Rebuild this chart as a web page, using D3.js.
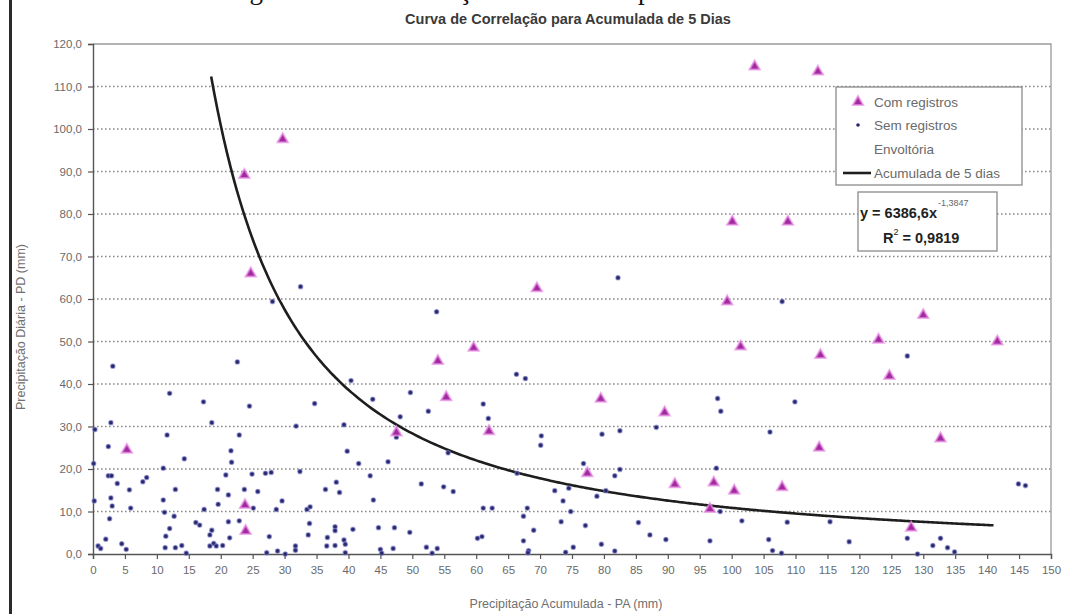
<!DOCTYPE html>
<html>
<head>
<meta charset="utf-8">
<script src="https://cdn.jsdelivr.net/npm/d3@7"></script>
<style>
  html, body { margin: 0; padding: 0; background: #fff; }
  svg { display: block; }
</style>
</head>
<body>
<svg id="chart" width="1069" height="614"></svg>
<script>
// ---- data -------------------------------------------------------------
// "Com registros": events with recorded occurrences (PA, PD)
const comX = [5.3, 23.8, 23.9, 23.7, 24.7, 29.7, 47.5, 54.0, 55.3, 59.6, 62.0, 69.5,
  77.4, 79.5, 89.5, 91.1, 96.6, 97.2, 99.3, 100.1, 100.4, 101.4, 103.6, 107.9,
  108.8, 113.5, 113.7, 113.9, 123.0, 124.7, 128.1, 130.0, 132.7, 141.6];
const comY = [24.5, 11.5, 5.4, 89.2, 66.0, 97.6, 28.6, 45.4, 36.9, 48.5, 28.9, 62.5,
  19.0, 36.5, 33.3, 16.4, 10.6, 16.8, 59.4, 78.2, 14.9, 48.8, 114.7, 15.7,
  78.2, 113.5, 25.0, 46.8, 50.4, 41.9, 6.2, 56.2, 27.2, 50.0];

// "Sem registros": events without recorded occurrences (PA, PD)
const semX = [28.1, 32.5, 82.2, 107.9, 22.6, 3.1, 12.0, 17.3, 24.5, 34.7, 2.8, 18.6,
  31.8, 0.3, 11.6, 22.9, 2.4, 21.6, 21.7, 14.3, 0.1, 11.0, 2.4, 2.9, 20.8, 24.9,
  27.0, 27.9, 32.4, 8.4, 7.8, 3.8, 5.7, 12.9, 19.5, 23.7, 25.8, 36.4, 21.2, 2.8,
  0.2, 11.0, 29.6, 19.6, 3.0, 5.9, 17.4, 25.1, 28.7, 33.5, 34.0, 11.2, 12.7, 2.6,
  21.2, 22.9, 16.1, 16.7, 12.0, 33.9, 18.6, 18.3, 11.4, 33.7, 21.4, 2.0, 4.5, 27.6,
  0.8, 1.2, 5.2, 11.3, 12.9, 13.9, 18.9, 19.3, 20.3, 18.3, 14.6, 27.2, 28.9, 30.1,
  31.7, 31.7, 36.6, 36.7, 53.8, 40.4, 43.8, 49.7, 66.3, 67.7, 48.1, 52.5, 61.1,
  61.9, 39.3, 47.5, 70.2, 70.1, 39.8, 55.6, 41.6, 46.2, 43.4, 66.4, 74.5, 72.3,
  73.6, 38.1, 38.6, 51.4, 54.9, 56.4, 43.9, 61.1, 62.5, 68.0, 67.4, 74.8, 73.3,
  69.0, 37.9, 37.9, 40.7, 44.7, 47.2, 49.6, 39.3, 39.5, 37.9, 60.2, 60.9, 45.0,
  45.2, 47.0, 52.2, 53.1, 53.9, 67.4, 68.2, 68.1, 74.0, 39.5, 97.8, 98.3, 109.9,
  79.7, 82.5, 88.2, 106.0, 76.8, 81.7, 82.5, 97.6, 80.3, 78.9, 98.2, 101.6, 108.7,
  77.1, 85.4, 87.2, 89.7, 79.6, 96.6, 105.8, 75.2, 81.7, 106.4, 107.8, 127.5,
  144.9, 146.0, 115.4, 118.4, 127.5, 132.7, 131.5, 133.8, 134.9, 129.1];
const semY = [59.4, 62.9, 65.0, 59.4, 45.2, 44.2, 37.8, 35.8, 34.8, 35.4, 30.9, 30.9,
  30.1, 29.3, 28.0, 28.0, 25.3, 24.3, 21.6, 22.4, 21.3, 20.2, 18.4, 18.4, 18.6, 18.8,
  19.0, 19.2, 19.4, 18.0, 17.0, 16.6, 15.1, 15.2, 15.2, 15.2, 14.7, 15.2, 13.9, 13.2,
  12.5, 12.7, 12.5, 11.7, 11.3, 10.8, 10.5, 10.8, 10.5, 10.5, 11.1, 9.8, 8.9, 8.3,
  7.6, 7.8, 7.4, 6.8, 6.0, 7.2, 5.6, 4.5, 4.2, 4.5, 3.8, 3.5, 2.4, 4.1,
  1.9, 1.3, 1.1, 1.5, 1.5, 2.0, 2.5, 1.9, 2.0, 1.9, 0.2, 0.3, 0.7, 0.0,
  1.9, 0.9, 1.9, 3.9, 57.0, 40.8, 36.4, 38.0, 42.3, 41.3, 32.3, 33.6, 35.3,
  31.9, 30.4, 27.5, 27.8, 25.6, 24.2, 23.8, 21.3, 21.7, 18.4, 19.0, 15.5, 14.9,
  12.5, 16.9, 14.5, 16.5, 15.8, 14.7, 12.7, 10.8, 10.8, 10.8, 8.9, 10.0, 7.6,
  5.6, 6.4, 5.5, 5.8, 6.2, 6.2, 5.1, 3.3, 2.3, 2.0, 3.7, 4.1, 1.1,
  0.2, 1.3, 1.6, 0.2, 1.3, 3.1, 0.8, 0.3, 0.4, 0.3, 36.6, 33.6, 35.8,
  28.2, 29.0, 29.8, 28.7, 21.3, 18.4, 19.9, 20.2, 14.9, 13.6, 10.0, 7.8, 7.5,
  6.7, 7.4, 4.5, 3.4, 2.3, 3.1, 3.4, 1.6, 0.7, 0.8, 0.2, 46.6,
  16.5, 16.1, 7.6, 2.9, 3.7, 3.7, 2.0, 1.5, 0.5, 0.0];

// Envelope "Acumulada de 5 dias": y = a * x^b, as printed in the equation box
const fitCoef = [6386.6, -1.3847];
const fitRange = [18.5, 141];
const fitLabels = ["y = 6386,6x", "-1,3847", "R", "2", " = 0,9819"];

const xTicks = d3.range(0, 151, 5);
const yTicks = [0, 10, 20, 30, 40, 50, 60, 70, 80, 90, 100, 110, 120];

const legendLabels = ["Com registros", "Sem registros", "Envoltória", "Acumulada de 5 dias"];

// ---- layout -----------------------------------------------------------
const svg = d3.select("#chart");
const font = "'Liberation Sans', Arial, sans-serif";
const plot = { left: 93, right: 1051, top: 44, bottom: 554 };

const x = d3.scaleLinear().domain([0, 150]).range([plot.left, plot.right]);
const y = d3.scaleLinear().domain([0, 120]).range([plot.bottom, plot.top]);

// caption line running off the top edge of the page (only descenders show)
const cap = svg.append("g").attr("font-family", "'Liberation Serif', 'Times New Roman', serif")
  .attr("font-size", 27).attr("fill", "#111");
cap.append("text").attr("x", 227).attr("y", -1).text("Figura 14");
cap.append("text").attr("x", 384).attr("y", -1).text("correlação");
cap.append("text").attr("x", 638).attr("y", -1).text("para 5 dias");

// dark frame edge on the left
svg.append("rect").attr("x", 9).attr("y", 0).attr("width", 3).attr("height", 614).attr("fill", "#2a2a2a");

// title
svg.append("text")
  .attr("x", 568).attr("y", 24)
  .attr("text-anchor", "middle")
  .attr("font-family", font).attr("font-size", 14.5).attr("font-weight", "bold")
  .attr("fill", "#3a3a3a")
  .text("Curva de Correlação para Acumulada de 5 Dias");

// horizontal dotted gridlines
svg.append("g").selectAll("line")
  .data(yTicks.filter(d => d > 0 && d < 120))
  .join("line")
  .attr("x1", plot.left).attr("x2", plot.right)
  .attr("y1", d => y(d)).attr("y2", d => y(d))
  .attr("stroke", "#8c8c8c").attr("stroke-width", 1.3)
  .attr("stroke-dasharray", "1.6,2.4");

// plot border (top and right)
svg.append("path")
  .attr("d", `M${plot.left},${plot.top}H${plot.right}V${plot.bottom}`)
  .attr("fill", "none").attr("stroke", "#9a9a9a").attr("stroke-width", 1.3);

// axes
const yAxis = svg.append("g")
  .attr("transform", `translate(${plot.left},0)`)
  .call(d3.axisLeft(y).tickValues(yTicks).tickSize(5).tickPadding(6)
    .tickFormat(d => d.toFixed(1).replace(".", ",")));
const xAxis = svg.append("g")
  .attr("transform", `translate(0,${plot.bottom})`)
  .call(d3.axisBottom(x).tickValues(xTicks).tickSize(5).tickPadding(7)
    .tickFormat(d => String(d)));
[yAxis, xAxis].forEach(g => {
  g.select(".domain").attr("stroke", "#555").attr("stroke-width", 1.4);
  g.selectAll(".tick line").attr("stroke", "#555").attr("stroke-width", 1.2);
  g.selectAll(".tick text").attr("fill", "#6a6a6a").attr("font-family", font).attr("font-size", 11.5);
});

// axis titles
svg.append("text")
  .attr("transform", "translate(25,327) rotate(-90)")
  .attr("text-anchor", "middle")
  .attr("font-family", font).attr("font-size", 12.5).attr("fill", "#707070")
  .text("Precipitação Diária - PD (mm)");
svg.append("text")
  .attr("x", 566).attr("y", 608)
  .attr("text-anchor", "middle")
  .attr("font-family", font).attr("font-size", 12.5).attr("fill", "#707070")
  .text("Precipitação Acumulada - PA (mm)");

// envelope curve
const curveXs = d3.range(fitRange[0], fitRange[1], 0.5).concat([fitRange[1]]);
svg.append("path")
  .datum(curveXs)
  .attr("fill", "none").attr("stroke", "#1e1e1e").attr("stroke-width", 2.6)
  .attr("d", d3.line().x(d => x(d)).y(d => y(fitCoef[0] * Math.pow(d, fitCoef[1]))).curve(d3.curveMonotoneX));

// markers
const triPath = d3.symbol().type(d3.symbolTriangle).size(46);
function dots(g, xs, ys) {
  g.selectAll("circle").data(xs).join("circle")
    .attr("cx", d => x(d)).attr("cy", (d, i) => y(ys[i]))
    .attr("r", 2.2)
    .attr("fill", "#27276b").attr("stroke", "#8080cc").attr("stroke-opacity", 0.55).attr("stroke-width", 1.3);
}
function tris(g, xs, ys) {
  g.selectAll("path").data(xs).join("path")
    .attr("d", triPath)
    .attr("transform", (d, i) => `translate(${x(d)},${y(ys[i])})`)
    .attr("fill", "#a02a9e").attr("stroke", "#e88fe6").attr("stroke-opacity", 0.7).attr("stroke-width", 2);
}
dots(svg.append("g"), semX, semY);
tris(svg.append("g"), comX, comY);

// legend
const lg = svg.append("g");
lg.append("rect").attr("x", 836).attr("y", 87).attr("width", 186).attr("height", 98)
  .attr("fill", "#fff").attr("stroke", "#8a8a8a").attr("stroke-width", 1.3);
const rowsY = [102, 125, 149, 173];
lg.append("path").attr("d", triPath).attr("transform", `translate(858,${rowsY[0]})`)
  .attr("fill", "#a02a9e").attr("stroke", "#e88fe6").attr("stroke-opacity", 0.7).attr("stroke-width", 2);
lg.append("circle").attr("cx", 858).attr("cy", rowsY[1]).attr("r", 1.8).attr("fill", "#27276b");
lg.append("line").attr("x1", 843).attr("x2", 871).attr("y1", rowsY[3]).attr("y2", rowsY[3])
  .attr("stroke", "#1e1e1e").attr("stroke-width", 2.6);
lg.selectAll("text.lab").data(legendLabels).join("text")
  .attr("class", "lab")
  .attr("x", 874).attr("y", (d, i) => rowsY[i] + 4.5)
  .attr("font-family", font).attr("font-size", 13.5).attr("fill", "#6a6a6a")
  .text(d => d);

// equation box
const eq = svg.append("g");
eq.append("rect").attr("x", 858).attr("y", 192).attr("width", 139).attr("height", 59)
  .attr("fill", "#fff").attr("stroke", "#8a8a8a").attr("stroke-width", 1.3);
const t1 = eq.append("text").attr("x", 860).attr("y", 218)
  .attr("font-family", font).attr("font-size", 14.5).attr("font-weight", "bold").attr("fill", "#222");
t1.append("tspan").text(fitLabels[0]);
t1.append("tspan").attr("dy", -12).attr("dx", 1).attr("font-size", 9).attr("font-weight", "normal")
  .attr("fill", "#666").text(fitLabels[1]);
const t2 = eq.append("text").attr("x", 883).attr("y", 243)
  .attr("font-family", font).attr("font-size", 14.5).attr("font-weight", "bold").attr("fill", "#222");
t2.append("tspan").text(fitLabels[2]);
t2.append("tspan").attr("dy", -8).attr("font-size", 9).attr("font-weight", "normal").text(fitLabels[3]);
t2.append("tspan").attr("dy", 8).text(fitLabels[4]);
</script>
</body>
</html>
